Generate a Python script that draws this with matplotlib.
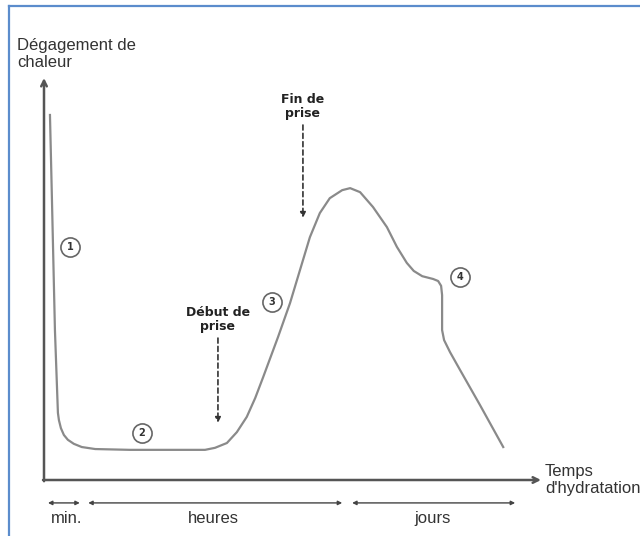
import matplotlib.pyplot as plt
from matplotlib.lines import Line2D

# Courbe de dégagement de chaleur (temps en unités arbitraires, chaleur en %)
temps = [1.2, 1.6, 2.2, 2.8, 3.0, 3.4, 4.0, 4.8, 6.0, 7.6, 10.3, 17.3, 25.0,
         32.4, 34.4, 36.8, 38.8, 40.8, 42.5, 44.1, 47.1, 49.5, 51.5, 53.5,
         55.5, 57.5, 60.0, 61.6, 63.6, 66.2, 69.0, 71.0, 73.0, 74.4, 76.1,
         78.3, 79.3, 79.9, 80.1, 80.1, 80.5, 81.7, 83.7, 87.7, 92.4]
chaleur = [90.8, 69.7, 37.3, 16.7, 14.9, 12.9, 11.2, 10.0, 9.0, 8.2, 7.7, 7.5,
           7.5, 7.5, 8.0, 9.2, 11.9, 15.7, 20.4, 25.6, 35.6, 44.0, 52.2, 60.4,
           66.4, 70.1, 72.1, 72.6, 71.6, 67.9, 62.9, 58.0, 54.0, 52.0, 50.7,
           50.0, 49.5, 48.3, 46.0, 37.3, 34.8, 31.8, 27.4, 18.7, 8.2]

# Repères numérotés
num_labels = ['1', '2', '3', '4']
num_t = [5.2, 19.7, 45.9, 83.7]
num_h = [58.0, 11.7, 44.3, 50.5]

# Début / fin de prise
prise_labels = ['Début de\nprise', 'Fin de\nprise']
prise_t = [35.0, 52.1]
prise_top = [35.3, 88.3]
prise_bas = [14.2, 65.2]

# Echelle de temps en bas
periodes = ['min.', 'heures', 'jours']
periode_debut = [0.8, 8.9, 62.0]
periode_fin = [7.2, 60.0, 94.8]
periode_centre = [4.6, 34.0, 78.1]

fig = plt.figure(figsize=(6.4, 5.36), dpi=100)
ax = fig.add_axes([0, 0, 1, 1])
ax.set_xlim(-8.853, 119.92)
ax.set_ylim(-13.93, 119.40)
ax.axis('off')

gris = '#8a8a8a'
txt = '#333333'

# axes
ax.annotate('', xy=(100, 0), xytext=(-0.2, 0),
            arrowprops=dict(arrowstyle='->', color='#555555', lw=1.8,
                            shrinkA=0, shrinkB=0, mutation_scale=10))
ax.annotate('', xy=(0, 100), xytext=(0, -0.3),
            arrowprops=dict(arrowstyle='->', color='#555555', lw=1.8,
                            shrinkA=0, shrinkB=0, mutation_scale=10))

ax.plot(temps, chaleur, color=gris, lw=1.6, solid_joinstyle='round')

# repères
ax.scatter(num_t, num_h, s=190, facecolor='white', edgecolor='#666666',
           linewidth=1.2, zorder=3)
for lab, t, h in zip(num_labels, num_t, num_h):
    ax.text(t, h, lab, ha='center', va='center', fontsize=7,
            fontweight='bold', color=txt, zorder=4)

# flèches de prise
for lab, t, h1, h2 in zip(prise_labels, prise_t, prise_top, prise_bas):
    ax.annotate('', xy=(t, h2), xytext=(t, h1),
                arrowprops=dict(arrowstyle='-|>', color=txt, lw=1.2,
                                linestyle=(0, (3, 2)), shrinkA=0, shrinkB=0,
                                mutation_scale=8))
    ax.text(t, h1 + 1.2, lab, ha='center', va='bottom', fontsize=9,
            fontweight='bold', color='#222222', family='DejaVu Sans',
            linespacing=1.1)

# échelle de temps
for lab, a, b, c in zip(periodes, periode_debut, periode_fin, periode_centre):
    ax.annotate('', xy=(b, -5.7), xytext=(a, -5.7),
                arrowprops=dict(arrowstyle='<|-|>', color='#444444', lw=1.0,
                                shrinkA=0, shrinkB=0, mutation_scale=6))
    ax.text(c, -9.6, lab, ha='center', va='center', fontsize=12,
            color=txt, family='Liberation Sans')

ax.text(-5.4, 106.0, 'Dégagement de\nchaleur', ha='left', va='center',
        fontsize=12, color=txt, family='Liberation Sans', linespacing=1.12)
ax.text(100.8, 0.0, "Temps\nd'hydratation", ha='left', va='center',
        fontsize=12, color=txt, family='Liberation Sans', linespacing=1.1)

# cadre bleu
bleu = '#5b8ccc'
fig.add_artist(Line2D([9 / 640, 9 / 640], [0, 1 - 6 / 536], color=bleu,
                      lw=1.6, transform=fig.transFigure))
fig.add_artist(Line2D([9 / 640, 1], [1 - 6 / 536, 1 - 6 / 536], color=bleu,
                      lw=1.6, transform=fig.transFigure))

fig.savefig('out.png', dpi=100)
